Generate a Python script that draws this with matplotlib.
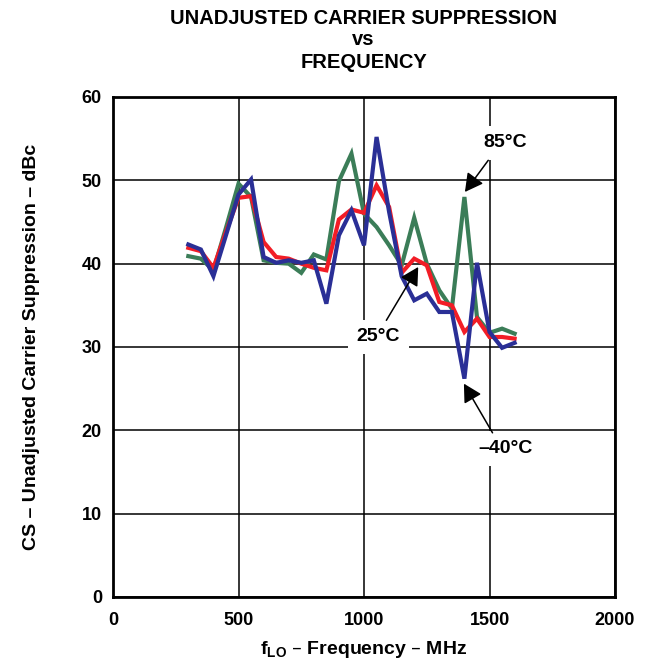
import matplotlib
matplotlib.use("Agg")
import matplotlib.pyplot as plt

plt.rcParams['font.family'] = ['Liberation Sans', 'DejaVu Sans']

freq_mhz = [300, 350, 400, 450, 500, 550, 600, 650, 700, 750, 800, 850, 900, 950,
            1000, 1050, 1100, 1150, 1200, 1250, 1300, 1350, 1400, 1450, 1500, 1550, 1600]

cs_85c = [40.9, 40.6, 39.2, 44.3, 49.6, 48.0, 40.4, 40.1, 40.0, 38.9, 41.1, 40.5, 49.9, 53.2,
          46.0, 44.4, 42.2, 39.8, 45.5, 40.0, 36.8, 34.6, 48.0, 33.6, 31.7, 32.2, 31.6]
cs_25c = [41.9, 41.5, 39.5, 43.8, 47.9, 48.1, 42.6, 40.8, 40.6, 40.0, 39.5, 39.2, 45.3, 46.5,
          46.1, 49.4, 46.8, 38.9, 40.6, 39.8, 35.4, 35.0, 31.8, 33.4, 31.2, 31.2, 31.0]
cs_m40c = [42.3, 41.7, 38.5, 43.4, 48.3, 50.1, 40.8, 40.1, 40.4, 40.1, 40.4, 35.2, 43.4, 46.4,
           42.2, 55.2, 46.2, 38.5, 35.6, 36.4, 34.2, 34.2, 26.2, 40.1, 31.8, 29.9, 30.5]

x_ticks = [0, 500, 1000, 1500, 2000]
y_ticks = [0, 10, 20, 30, 40, 50, 60]

fig = plt.figure(figsize=(6.48, 6.62), dpi=100)
ax = fig.add_axes([0.1744, 0.0982, 0.7747, 0.7553])

ax.plot(freq_mhz, cs_85c, color='#3b7d58', lw=3.0, solid_joinstyle='miter', zorder=3)
ax.plot(freq_mhz, cs_25c, color='#f21d26', lw=3.0, solid_joinstyle='miter', zorder=4)
ax.plot(freq_mhz, cs_m40c, color='#2a2f96', lw=3.0, solid_joinstyle='miter', zorder=5)

ax.set_xlim(0, 2000)
ax.set_ylim(0, 60)
ax.set_xticks(x_ticks)
ax.set_yticks(y_ticks)
ax.set_xticklabels([str(t) for t in x_ticks], fontsize=13, fontweight='bold')
ax.set_yticklabels([str(t) for t in y_ticks], fontsize=13, fontweight='bold')
ax.tick_params(axis='x', length=0, pad=11)
ax.tick_params(axis='y', length=0, pad=8)
ax.grid(True, color='black', lw=1.1, zorder=1)
for s in ax.spines.values():
    s.set_linewidth(2.0)

ax.set_xlabel(r'f$_{\mathregular{LO}}$ – Frequency – MHz', fontsize=14, fontweight='bold', labelpad=7)
ax.set_ylabel('CS – Unadjusted Carrier Suppression – dBc', fontsize=14, fontweight='bold', labelpad=30)

fig.text(0.561, 0.972, 'UNADJUSTED CARRIER SUPPRESSION', ha='center', va='center',
         fontsize=14.5, fontweight='bold')
fig.text(0.561, 0.940, 'vs', ha='center', va='center', fontsize=14.5, fontweight='bold')
fig.text(0.561, 0.906, 'FREQUENCY', ha='center', va='center', fontsize=14.5, fontweight='bold')

box = dict(boxstyle='square,pad=0.45', fc='white', ec='none')
ax.text(1562, 54.5, '85°C', fontsize=14, fontweight='bold', ha='center', va='center',
        bbox=box, zorder=6)
ax.text(1056, 31.2, '25°C', fontsize=14, fontweight='bold', ha='center', va='center',
        bbox=box, zorder=6)
ax.text(1565, 17.8, '–40°C', fontsize=14, fontweight='bold', ha='center', va='center',
        bbox=box, zorder=6)

arrow = dict(arrowstyle='-|>,head_length=1.1,head_width=0.6', color='black', lw=1.1,
             shrinkA=0, shrinkB=0, mutation_scale=10)
ax.annotate('', xy=(1402, 48.6), xytext=(1495, 52.4), arrowprops=arrow, zorder=7)
ax.annotate('', xy=(1216, 39.6), xytext=(1089, 33.2), arrowprops=arrow, zorder=7)
ax.annotate('', xy=(1398, 25.6), xytext=(1512, 19.7), arrowprops=arrow, zorder=7)

fig.savefig('out.png', dpi=100)
